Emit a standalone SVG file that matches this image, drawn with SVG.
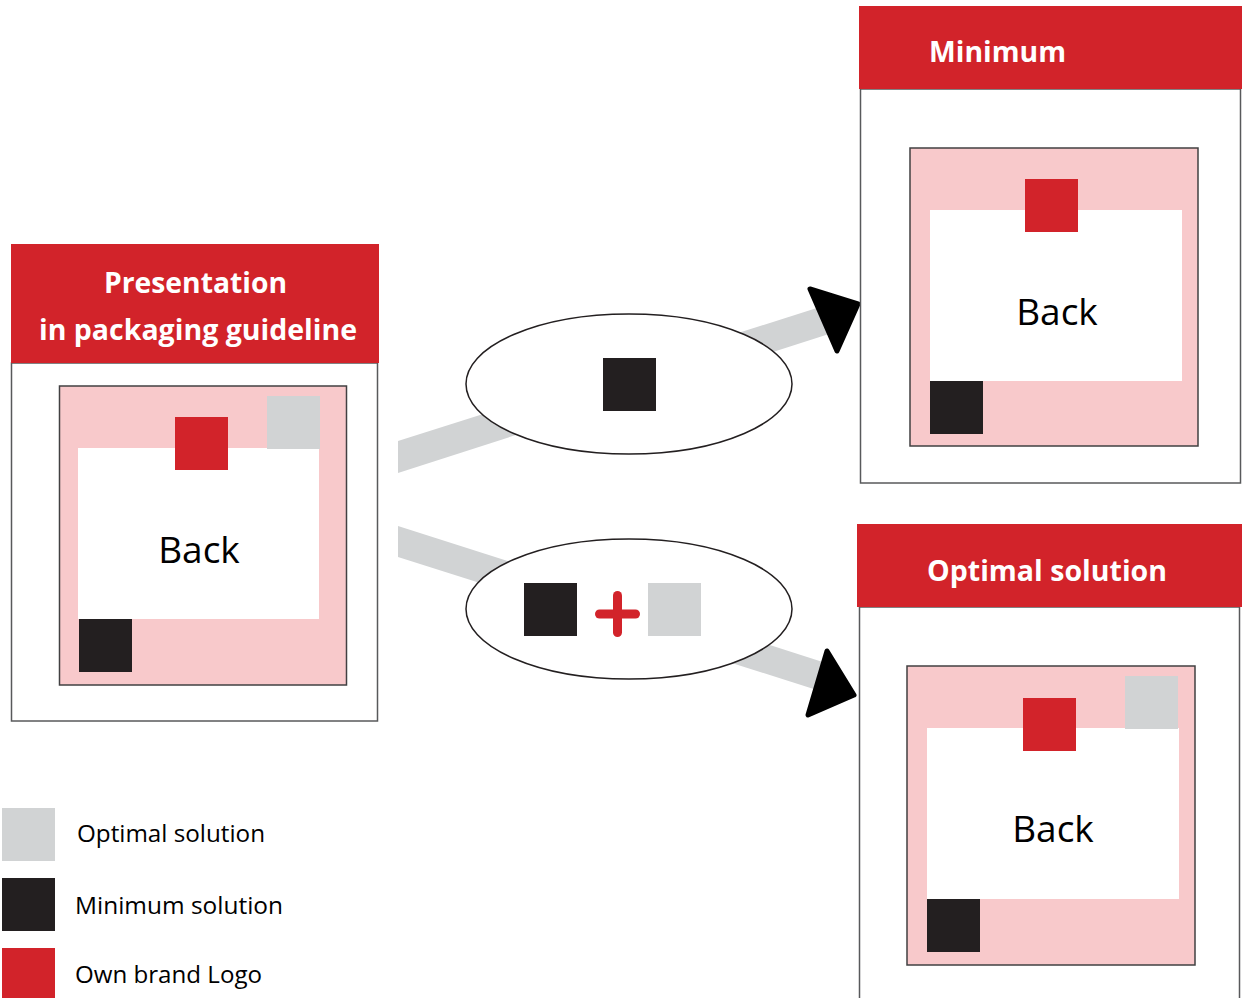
<svg xmlns="http://www.w3.org/2000/svg" width="1242" height="998" viewBox="0 0 1242 998">
<style>
.hdr{fill:#D2232A}
.box{fill:#fff;stroke:#58595B;stroke-width:1.5}
.pack{fill:#F8C9CB;stroke:#414042;stroke-width:1.5}
.white{fill:#fff}
.red{fill:#D2232A}
.grey{fill:#D1D3D4}
.blk{fill:#231F20}
.htxt{font-family:"Open Sans","Liberation Sans",sans-serif;font-weight:bold;fill:#fff;font-size:29px}
.back{font-family:"Open Sans","Liberation Sans",sans-serif;fill:#000;font-size:37px;text-anchor:middle}
.leg{font-family:"Open Sans","Liberation Sans",sans-serif;fill:#000;font-size:23px}
.band{fill:#D1D3D4}
.head{fill:#000;stroke:#000;stroke-width:5;stroke-linejoin:round}
.oval{fill:#fff;stroke:#231F20;stroke-width:1.5}
.plus{stroke:#D2232A;stroke-width:9;stroke-linecap:round}
</style>
<g id="connectors">
<polygon class="band" points="398,441 820,307 829,334 398,473"/>
<polygon class="head" points="810,289 858,304 837,351"/>
<polygon class="band" points="398,526 832,665 823,692 398,557"/>
<polygon class="head" points="827,651 854,695 808,715"/>
</g>
<g id="label-minimum">
<ellipse class="oval" cx="629" cy="384" rx="163" ry="70"/>
<rect class="blk" x="603" y="358" width="53" height="53"/>
</g>
<g id="label-optimal">
<ellipse class="oval" cx="629" cy="609" rx="163" ry="70"/>
<rect class="blk" x="524" y="583" width="53" height="53"/>
<line class="plus" x1="599.5" y1="614" x2="635.5" y2="614"/>
<line class="plus" x1="617.5" y1="595.5" x2="617.5" y2="632.5"/>
<rect class="grey" x="648" y="583" width="53" height="53"/>
</g>
<g id="node-guideline">
<rect class="box" x="11.5" y="363" width="366" height="358"/>
<rect class="hdr" x="11" y="244" width="368" height="119"/>
<text class="htxt" x="104" y="293" textLength="183" lengthAdjust="spacingAndGlyphs">Presentation</text>
<text class="htxt" x="39" y="340" textLength="318" lengthAdjust="spacingAndGlyphs">in packaging guideline</text>
<rect class="pack" x="59.5" y="386" width="287" height="299"/>
<rect class="white" x="78" y="448" width="241" height="171"/>
<rect class="red" x="175" y="417" width="53" height="53"/>
<rect class="grey" x="267" y="396" width="53" height="53"/>
<rect class="blk" x="79" y="619" width="53" height="53"/>
<text class="back" x="199" y="563">Back</text>
</g>
<g id="node-minimum">
<rect class="box" x="860.5" y="89" width="380" height="394"/>
<rect class="hdr" x="859" y="6" width="383" height="83"/>
<text class="htxt" x="929" y="62" textLength="137" lengthAdjust="spacingAndGlyphs">Minimum</text>
<rect class="pack" x="910" y="148" width="288" height="298"/>
<rect class="white" x="930" y="210" width="252" height="171"/>
<rect class="red" x="1025" y="179" width="53" height="53"/>
<rect class="blk" x="930" y="381" width="53" height="53"/>
<text class="back" x="1057" y="325">Back</text>
</g>
<g id="node-optimal">
<rect class="box" x="859.5" y="607" width="380" height="400"/>
<rect class="hdr" x="857" y="524" width="385" height="83"/>
<text class="htxt" x="927" y="581" textLength="240" lengthAdjust="spacingAndGlyphs">Optimal solution</text>
<rect class="pack" x="907" y="666" width="288" height="299"/>
<rect class="white" x="927" y="728" width="252" height="171"/>
<rect class="red" x="1023" y="698" width="53" height="53"/>
<rect class="grey" x="1125" y="676" width="53" height="53"/>
<rect class="blk" x="927" y="899" width="53" height="53"/>
<text class="back" x="1053" y="842">Back</text>
</g>
<g id="legend">
<rect class="grey" x="2" y="808" width="53" height="53"/>
<text class="leg" x="77" y="842" textLength="188" lengthAdjust="spacingAndGlyphs">Optimal solution</text>
<rect class="blk" x="2" y="878" width="53" height="53"/>
<text class="leg" x="75" y="914" textLength="208" lengthAdjust="spacingAndGlyphs">Minimum solution</text>
<rect class="red" x="2" y="948" width="53" height="50"/>
<text class="leg" x="75" y="983" textLength="187" lengthAdjust="spacingAndGlyphs">Own brand Logo</text>
</g>
</svg>
